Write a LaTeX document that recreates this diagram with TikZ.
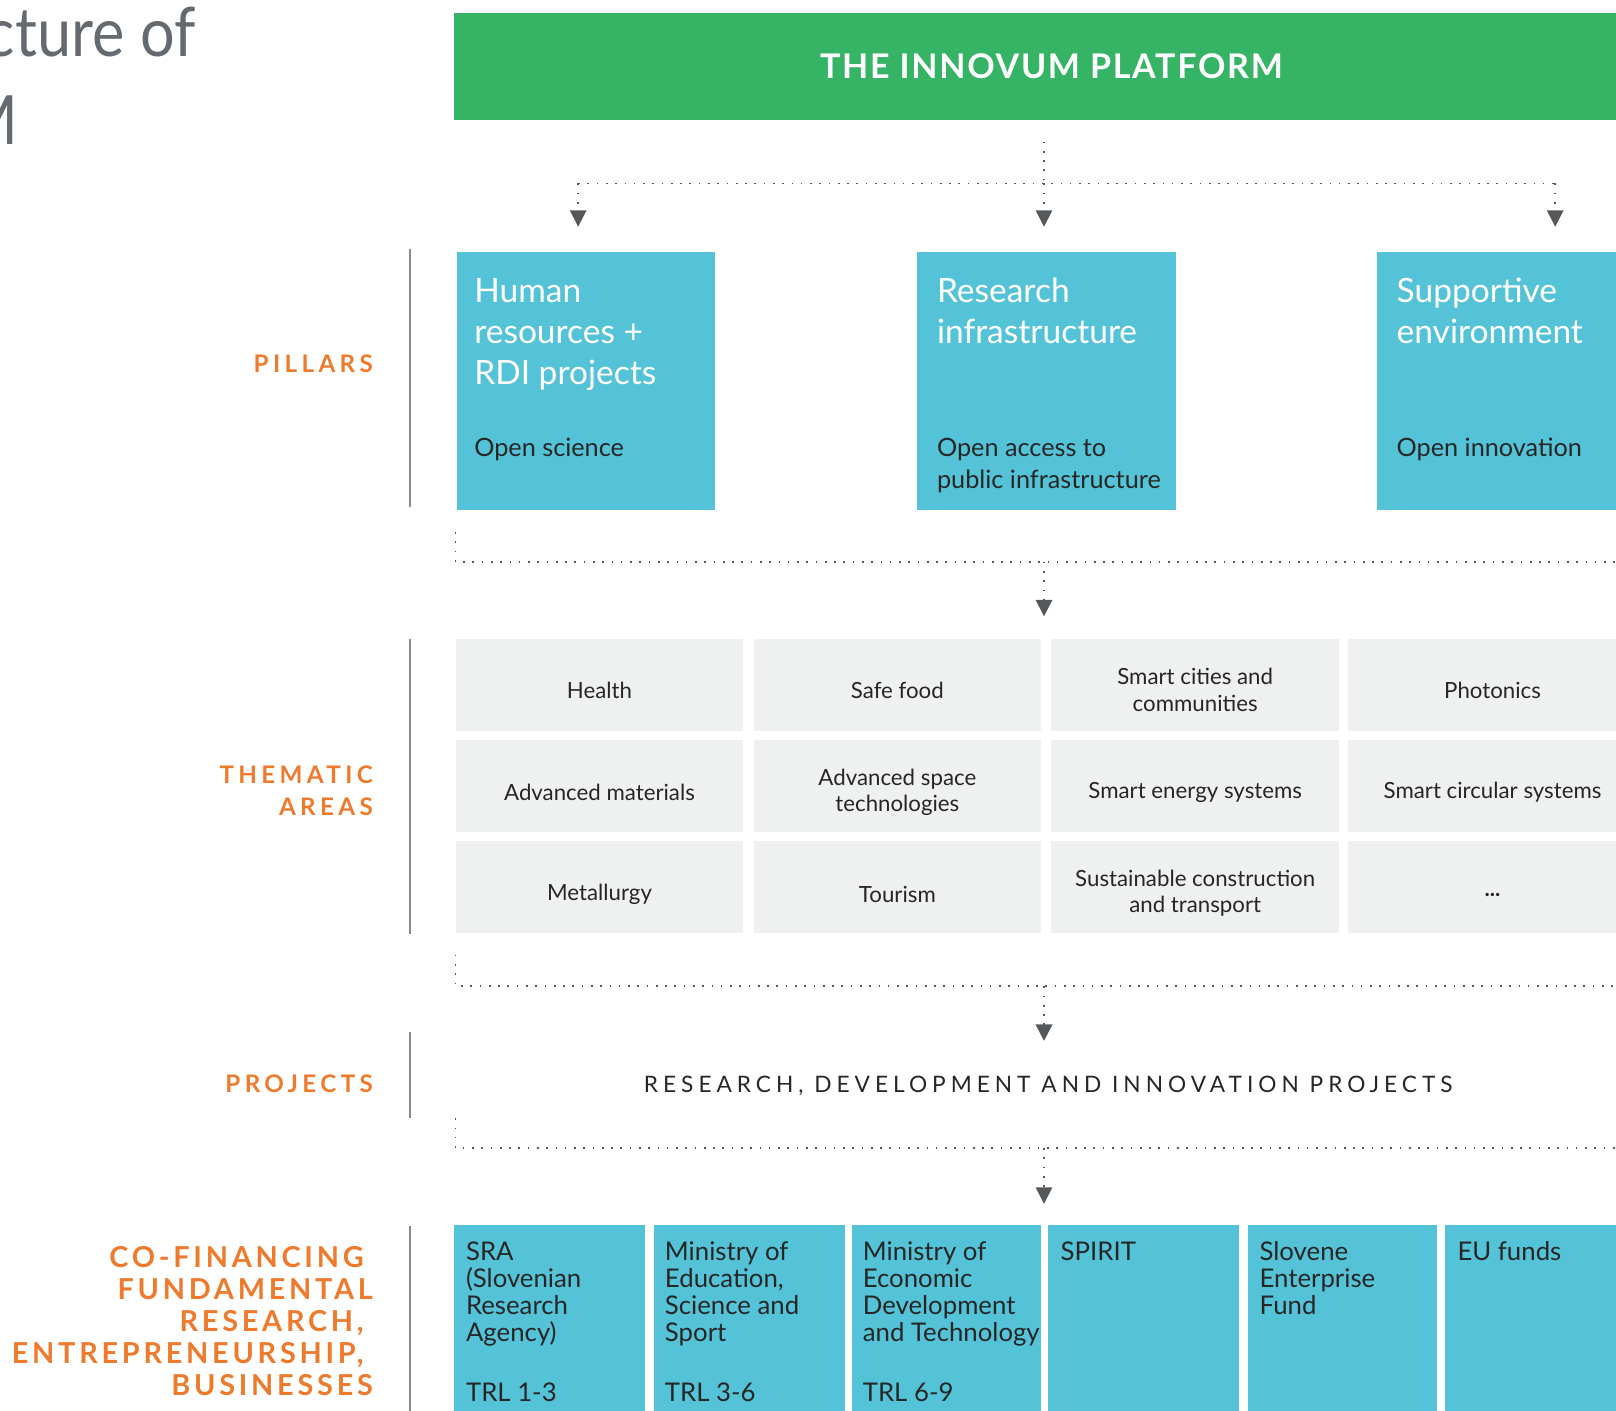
\documentclass[tikz,border=0pt]{standalone}
\usepackage{fontspec}
\setmainfont{Lato}
\newfontfamily\lsA[LetterSpace=18]{Lato}
\newfontfamily\lsD[LetterSpace=13]{Lato}
\newfontfamily\lsB[LetterSpace=5]{Lato}
\newfontfamily\lsC[LetterSpace=22]{Lato}
\usetikzlibrary{arrows.meta}
\definecolor{platgreen}{HTML}{36B466}
\definecolor{pcyan}{HTML}{55C3D7}
\definecolor{cellgrey}{HTML}{EFF0F0}
\definecolor{lblorange}{HTML}{EE7B2D}
\definecolor{ink}{HTML}{262626}
\definecolor{dotgrey}{HTML}{54585B}
\definecolor{rulegrey}{HTML}{8C8C8C}
\definecolor{titlegrey}{HTML}{646A6F}
\begin{document}
\begin{tikzpicture}[x=1pt,y=-1pt,
  pillar/.style={fill=pcyan, draw=none, anchor=north west, minimum width=251pt, minimum height=251pt, inner sep=0pt},
  ptitle/.style={anchor=north west, inner sep=0pt, align=left, text=white, font=\fontsize{32.5}{40}\selectfont},
  psub/.style={anchor=north west, inner sep=0pt, align=left, text=ink, font=\fontsize{24.5}{31}\selectfont},
  lbl/.style={inner sep=0pt, align=right, text=lblorange, font=\lsA\bfseries\fontsize{23.5}{31}\selectfont},
  cell/.style={fill=cellgrey, anchor=north west, minimum width=279pt, minimum height=89pt, inner sep=0pt},
  celltxt/.style={inner sep=0pt, align=center, text=ink, font=\fontsize{21.6}{26}\selectfont},
  fund/.style={fill=pcyan, anchor=north west, minimum height=200pt, inner sep=0pt},
  ftxt/.style={anchor=north west, inner sep=0pt, align=left, text=ink, font=\fontsize{25}{26}\selectfont},
  dotl/.style={draw=dotgrey, line width=1.6pt, dash pattern=on 1.6pt off 7.4pt},
  tip/.style={-{Triangle[width=16pt,length=16pt]}, dotgrey},
  rulel/.style={draw=rulegrey, line width=2pt},
  titletxt/.style={inner sep=0pt, text=titlegrey, font=\fontsize{66}{80}\selectfont}
]
\useasboundingbox (0,0) rectangle (1568,1369);
\begin{scope}
\clip (0,0) rectangle (1568,1369);
% title fragments
\node[titletxt, anchor=base east] (ttl1) at (190,55) {\scalebox{0.9}[1]{cture of}};
\node[titletxt, anchor=base east] (ttl2) at (18,140) {\scalebox{0.9}[1]{M}};
% banner
\node[fill=platgreen, anchor=north west, minimum width=1160pt, minimum height=104pt, inner sep=0pt,
      text=white, font=\lsB\bfseries\fontsize{33}{40}\selectfont] (banner) at (440,12) {THE INNOVUM PLATFORM};
% pillars
\node[pillar] (p1) at (443,244) {};
\node[pillar] (p2) at (890,244) {};
\node[pillar, minimum width=280pt] (p3) at (1336,244) {};
\node[ptitle] (p1t) at (460,267) {\rule{0pt}{26pt}Human\\resources +\\RDI projects};
\node[psub] (p1s) at (460,421) {\rule{0pt}{22pt}Open science};
\node[ptitle] (p2t) at (909,267) {\rule{0pt}{26pt}Research\\infrastructure};
\node[psub] (p2s) at (909,421) {\rule{0pt}{22pt}Open access to\\public infrastructure};
\node[ptitle] (p3t) at (1355,267) {\rule{0pt}{26pt}Supportive\\environment};
\node[psub] (p3s) at (1355,421) {\rule{0pt}{22pt}Open innovation};
% connectors banner -> pillars
\coordinate (a1) at (561,220);
\coordinate (a2) at (1013,220);
\coordinate (a3) at (1509,220);
\coordinate (j1) at (561,178);
\coordinate (j3) at (1509,178);
\draw[dotl] ([yshift=-21pt]banner.south -| a2) -- (a2 |- j1);
\draw[dotl] (j1) -- (j3);
\draw[dotl, tip] (j1) -- (a1);
\draw[dotl, tip] (a2 |- j1) -- (a2);
\draw[dotl, tip] (j3) -- (a3);
% left labels and rules
\draw[rulel] (398,242) -- (398,492);
\draw[rulel] (398,620) -- (398,906);
\draw[rulel] (398,1001) -- (398,1085);
\draw[rulel] (398,1190) -- (398,1369);
\node[lbl, anchor=base east] (lp) at (362,361) {PILLARS};
\node[lbl, anchor=north east] (lt) at (362,736) {\rule{0pt}{24pt}THEMATIC\\AREAS};
\node[lbl, anchor=base east] (lpr) at (362,1060) {PROJECTS};
\node[lbl, anchor=north east, font=\lsD\bfseries\fontsize{28}{31}\selectfont] (lc) at (362,1203.7)
  {\rule{0pt}{26pt}CO-FINANCING\kern9pt\\FUNDAMENTAL\\RESEARCH,\kern9pt\\ENTREPRENEURSHIP,\kern9pt\\BUSINESSES};
% pillars -> thematic
\coordinate (b1) at (442,545);
\coordinate (b1e) at (1616,545);
\coordinate (k2) at (1013,598);
\draw[dotl] ([yshift=-21pt]p1.south west -| b1) -- (b1) -- (b1e);
\draw[dotl, tip] (b1 -| k2) -- (k2);
% thematic grid
\node[cell] (t11) at (442,620) {};
\node[cell] (t12) at (731,620) {};
\node[cell] (t13) at (1020,620) {};
\node[cell, minimum width=280pt] (t14) at (1308,620) {};
\node[cell] (t21) at (442,718) {};
\node[cell] (t22) at (731,718) {};
\node[cell] (t23) at (1020,718) {};
\node[cell, minimum width=280pt] (t24) at (1308,718) {};
\node[cell] (t31) at (442,816) {};
\node[cell] (t32) at (731,816) {};
\node[cell] (t33) at (1020,816) {};
\node[cell, minimum width=280pt] (t34) at (1308,816) {};
\node[celltxt] (x11) at ([yshift=-5pt]t11.center) {Health};
\node[celltxt] (x12) at ([yshift=-5pt]t12.center) {Safe food};
\node[celltxt] (x13) at ([yshift=-5pt]t13.center) {Smart cities and\\communities};
\node[celltxt] (x14) at ([yshift=-5pt]t14.center) {Photonics};
\node[celltxt] (x21) at ([yshift=-6pt]t21.center) {Advanced materials};
\node[celltxt] (x22) at ([yshift=-6pt]t22.center) {Advanced space\\technologies};
\node[celltxt] (x23) at ([yshift=-6pt]t23.center) {Smart energy systems};
\node[celltxt] (x24) at ([yshift=-6pt]t24.center) {Smart circular systems};
\node[celltxt] (x31) at ([yshift=-7pt]t31.center) {Metallurgy};
\node[celltxt] (x32) at ([yshift=-7pt]t32.center) {Tourism};
\node[celltxt] (x33) at ([yshift=-6pt]t33.center) {Sustainable construction\\and transport};
\node[celltxt] (x34) at ([yshift=-8pt]t34.center) {\bfseries ...};
% thematic -> projects
\coordinate (b2) at (442,957);
\coordinate (b2e) at (1616,957);
\coordinate (k3) at (1013,1010);
\draw[dotl] ([yshift=-21pt]t31.south west -| b2) -- (b2) -- (b2e);
\draw[dotl, tip] (b2 -| k3) -- (k3);
% projects
\node[inner sep=0pt, anchor=base, text=ink, font=\lsC\fontsize{22}{26}\selectfont] (proj) at (1017,1060)
  {RESEARCH, DEVELOPMENT AND INNOVATION PROJECTS};
% projects -> funding
\coordinate (b3) at (442,1114);
\coordinate (b3e) at (1616,1114);
\coordinate (k4) at (1013,1168);
\coordinate (b3s) at (442,1085);
\draw[dotl] (b3s) -- (b3) -- (b3e);
\draw[dotl, tip] (b3 -| k4) -- (k4);
% funding boxes
\node[fund, minimum width=186pt] (f1) at (440,1188) {};
\node[fund, minimum width=186pt] (f2) at (634,1188) {};
\node[fund, minimum width=184pt] (f3) at (826,1188) {};
\node[fund, minimum width=185pt] (f4) at (1017,1188) {};
\node[fund, minimum width=183pt] (f5) at (1211,1188) {};
\node[fund, minimum width=200pt] (f6) at (1402,1188) {};
\node[ftxt] (f1t) at (452,1199) {\rule{0pt}{24pt}SRA\\(Slovenian\\Research\\Agency)};
\node[ftxt] (f2t) at (645,1199) {\rule{0pt}{24pt}Ministry of\\Education,\\Science and\\Sport};
\node[ftxt] (f3t) at (837,1199) {\rule{0pt}{24pt}Ministry of\\Economic\\Development\\and Technology};
\node[ftxt] (f4t) at (1029,1199) {\rule{0pt}{24pt}SPIRIT};
\node[ftxt] (f5t) at (1222,1199) {\rule{0pt}{24pt}Slovene\\Enterprise\\Fund};
\node[ftxt] (f6t) at (1414,1199) {\rule{0pt}{24pt}EU funds};
\node[ftxt, anchor=base west] (f1r) at (452,1360) {TRL 1-3};
\node[ftxt, anchor=base west] (f2r) at (645,1360) {TRL 3-6};
\node[ftxt, anchor=base west] (f3r) at (837,1360) {TRL 6-9};
\end{scope}
\end{tikzpicture}
\end{document}
